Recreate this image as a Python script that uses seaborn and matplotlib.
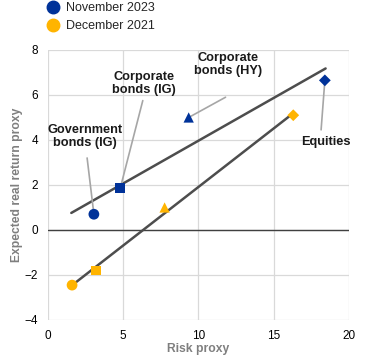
import numpy as np
import pandas as pd
import matplotlib
matplotlib.use("Agg")
import matplotlib.pyplot as plt
import seaborn as sns
from matplotlib.lines import Line2D

assets = ["Government bonds (IG)", "Corporate bonds (IG)", "Corporate bonds (HY)", "Equities"]
risk_nov23 = [3.05, 4.8, 9.35, 18.4]
ret_nov23 = [0.7, 1.85, 5.0, 6.65]
risk_dec21 = [1.6, 3.2, 7.75, 16.3]
ret_dec21 = [-2.45, -1.8, 1.0, 5.1]
dates = ["November 2023", "December 2021"]
labels = ["Government\nbonds (IG)", "Corporate\nbonds (IG)", "Corporate\nbonds (HY)", "Equities"]

BLUE = "#003299"
YELLOW = "#FFB400"

df = pd.DataFrame({
    "asset": assets * 2,
    "risk": risk_nov23 + risk_dec21,
    "ret": ret_nov23 + ret_dec21,
    "date": [dates[0]] * 4 + [dates[1]] * 4,
})

sns.set_theme(style="white")
plt.rcParams["font.family"] = ["Liberation Sans", "DejaVu Sans"]

fig = plt.figure(figsize=(3.72, 3.61), dpi=100)
ax = fig.add_axes([0.129, 0.1136, 0.809, 0.748])

# regression lines
fits = {}
for d, xs, ys in [(dates[0], risk_nov23, ret_nov23), (dates[1], risk_dec21, ret_dec21)]:
    fits[d] = np.polyfit(xs, ys, 1)
xr_nov = np.array([min(risk_dec21) - 0.05, max(risk_nov23) + 0.05])
xr_dec = np.array([min(risk_dec21), max(risk_dec21)])
line_df = pd.DataFrame({
    "x": np.concatenate([xr_nov, xr_dec]),
    "y": np.concatenate([np.polyval(fits[dates[0]], xr_nov), np.polyval(fits[dates[1]], xr_dec)]),
    "g": [dates[0]] * 2 + [dates[1]] * 2,
})
sns.lineplot(data=line_df, x="x", y="y", units="g", estimator=None, color="#4d4d4d",
             lw=1.8, ax=ax, legend=False, zorder=3)

sns.scatterplot(data=df, x="risk", y="ret", hue="date", style="asset", size="asset",
                palette={dates[0]: BLUE, dates[1]: YELLOW},
                markers={assets[0]: "o", assets[1]: "s", assets[2]: "^", assets[3]: "D"},
                sizes={assets[0]: 60, assets[1]: 50, assets[2]: 55, assets[3]: 36},
                edgecolor="none", ax=ax, legend=False, zorder=4)

ax.set_xlim(0, 20)
ax.set_ylim(-4, 8)
ax.set_xticks([0, 5, 10, 15, 20])
ax.set_yticks([-4, -2, 0, 2, 4, 6, 8])
ax.grid(True, color="#d9d9d9", lw=0.9)
for s in ax.spines.values():
    s.set_visible(False)
ax.axhline(0, color="#404040", lw=1.0, zorder=2)
ax.tick_params(axis="x", labelsize=8.5, colors="#000000", length=0, pad=7)
ax.tick_params(axis="y", labelsize=8.5, colors="#000000", length=0, pad=7)

ax.set_xlabel("Risk proxy", fontsize=8.7, fontweight="bold", color="#7f7f7f", labelpad=1)
ax.set_ylabel("Expected real return proxy", fontsize=8.7, fontweight="bold", color="#7f7f7f", labelpad=1)

# annotations
text_pos = [(2.45, 4.15), (6.4, 6.5), (12.0, 7.35), (18.45, 3.9)]
arrow_start = [(2.6, 3.2), (6.3, 5.75), (11.8, 5.9), (18.15, 4.45)]
for i, lab in enumerate(labels):
    ax.text(text_pos[i][0], text_pos[i][1], lab, ha="center", va="center", fontsize=9.2,
            fontweight="bold", color="#1a1a1a", linespacing=1.1, zorder=5)
    ax.annotate("", xy=(risk_nov23[i], ret_nov23[i]), xytext=arrow_start[i],
                arrowprops=dict(arrowstyle="-", color="#a6a6a6", lw=1.2, shrinkA=0, shrinkB=0),
                zorder=3)

handles = [Line2D([], [], marker="o", ls="none", color=BLUE, markersize=9),
           Line2D([], [], marker="o", ls="none", color=YELLOW, markersize=9)]
fig.legend(handles, dates, loc="upper left", bbox_to_anchor=(0.101, 1.014), frameon=False,
           fontsize=9, handletextpad=0.5, handlelength=1.2, labelspacing=0.45, borderaxespad=0.2)

fig.savefig("out.png", dpi=100)
